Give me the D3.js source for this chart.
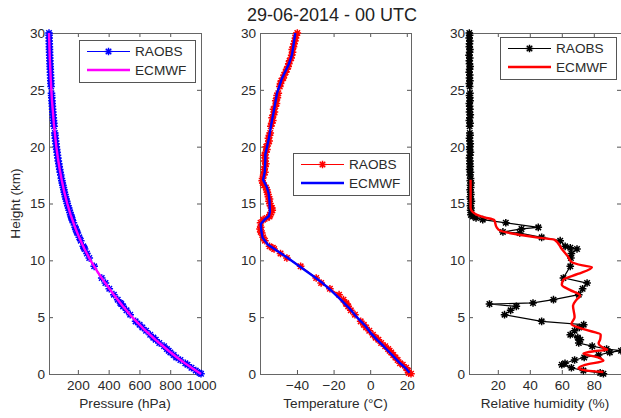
<!DOCTYPE html>
<html lang="en">
<head>
  <meta charset="UTF-8">
  <title>Radiosonde vs ECMWF profiles</title>
  <script src="https://d3js.org/d3.v7.min.js"></script>
  <style>
    html, body {
      margin: 0;
      padding: 0;
      background: #fff;
    }

    svg {
      display: block;
      font-family: "Liberation Sans", Arial, Helvetica, sans-serif;
    }

    .axis text {
      font-size: 13.6px;
      fill: #2a2a2a;
    }

    .label {
      font-size: 13.6px;
      fill: #2a2a2a;
    }
  </style>
</head>
<body>
  <svg id="chart" width="621" height="418"></svg>

  <script>
    // Radiosonde levels (km), shared by the three profiles
    const raobsHeight = [
      0.02, 0.10, 0.30, 0.55, 0.82, 0.95, 1.23, 1.45, 1.67, 1.90,
      2.05, 2.20, 2.45, 2.73, 3.02, 3.20, 3.46, 3.80, 4.10, 4.34,
      4.63, 5.22, 5.60, 5.95, 6.16, 6.25, 6.54, 6.98, 7.50, 8.00,
      8.45, 9.47, 10.20, 10.60, 11.00, 11.10, 11.23, 11.73, 12.02, 12.40,
      12.50, 12.76, 12.90, 13.30, 13.58, 13.72, 13.86, 14.00,
      14.2, 14.4, 14.6, 14.8, 15.0, 15.2, 15.4, 15.6, 15.8, 16.0, 16.2, 16.4, 16.6, 16.8, 17.0, 17.2,
      17.5, 17.75, 18.0, 18.25, 18.5, 18.75, 19.0, 19.25, 19.5, 19.75, 20.0, 20.25, 20.5, 20.75, 21.0, 21.2,
      21.8, 22.05, 22.3, 22.55, 22.8, 23.05, 23.3, 23.55, 23.8, 24.05, 24.3, 24.5, 24.7,
      25.3, 25.55, 25.8, 26.05, 26.3, 26.55, 26.8, 27.05, 27.3, 27.55, 27.8, 28.05, 28.3, 28.55, 28.8, 29.05, 29.3, 29.55, 29.8, 30.0
    ];

    const raobsPressure = [
      1000, 990, 966, 938, 912, 898, 866, 839, 822, 801,
      790, 778, 760, 729, 706, 690, 670, 643, 619, 601,
      575, 540, 516, 494, 482, 476, 459, 434, 404, 379,
      355, 306, 274, 259, 244, 240, 235, 219, 209, 197,
      194, 186, 182, 171, 163, 160, 157, 153,
      149, 144, 140, 135, 131, 127, 123, 119, 116, 112, 109, 106, 102, 99, 96, 93,
      89, 85.5, 82, 79, 76, 73, 70, 67.5, 65, 62.5, 60, 58, 55.5, 53.5, 51.5, 50,
      45.5, 43.7, 42, 40.3, 38.8, 37.2, 35.8, 34.4, 33, 31.7, 30.5, 29.5, 28.6,
      26, 25, 24.2, 23.3, 22.4, 21.5, 20.7, 19.8, 19, 18.3, 17.6, 16.9, 16.2, 15.6, 15, 14.4, 13.8, 13.3, 12.8, 12.4
    ];

    const raobsTemp = [
      22.3, 21.0, 20.6, 19.6, 17.8, 16.3, 15.0, 13.8, 12.6, 11.5,
      10.6, 9.8, 8.2, 6.0, 4.5, 3.0, 1.5, -0.5, -2.2, -3.5,
      -5.2, -8.3, -10.6, -12.0, -13.0, -13.2, -14.6, -17.0, -22.0, -26.8,
      -29.5, -38.0, -45.5, -49.0, -52.5, -53.2, -55.0, -57.5, -58.5, -59.2,
      -59.8, -60.2, -59.8, -59.9, -58.5, -56.5, -55.0, -54.8,
      -54.0, -53.5, -53.7, -54.5, -54.8, -55.3, -55.0, -55.6, -55.8, -56.2, -56.5, -57.0, -58.0, -58.7, -59.0, -58.8,
      -58.2, -57.5, -57.9, -57.4, -57.0, -57.6, -57.2, -57.8, -57.0, -56.4, -56.8, -55.8, -55.2, -55.6, -55.0, -54.6,
      -54.3, -53.8, -53.2, -53.6, -52.8, -52.3, -52.8, -51.8, -51.2, -51.6, -50.7, -50.9, -50.2,
      -49.4, -49.0, -48.5, -47.5, -47.0, -46.2, -45.6, -44.8, -44.5, -44.0, -43.2, -42.9, -42.4, -42.6, -41.9, -41.6, -41.2, -40.8, -40.5, -39.8
    ];

    const raobsRH = [
      86, 84, 73.5, 66, 60, 62, 68, 74, 83, 90,
      97, 88, 79, 70.6, 71.6, 70, 65.3, 68, 71, 73.7,
      47.4, 24.2, 28, 31.6, 14.8, 42, 54.8, 70.6, 73, 75.8,
      61, 65.3, 65.7, 66, 69.5, 65.3, 62.1, 59, 47.4, 33.7,
      23.2, 34.8, 45.3, 25, 10.6, 6.4, 4.5, 3.2,
      3.4, 3.0, 3.3, 2.9, 3.1, 3.5, 3.0, 2.8, 3.2, 3.0, 2.7, 3.1, 2.9, 3.3, 2.8, 3.0,
      2.6, 2.9, 2.4, 2.8, 2.5, 2.7, 2.3, 2.6, 2.9, 2.4, 2.6, 2.8, 2.5, 2.3, 2.7, 2.5,
      2.4, 2.7, 2.2, 2.5, 2.8, 2.3, 2.6, 2.4, 2.2, 2.7, 2.5, 2.3, 2.6,
      2.4, 2.2, 2.6, 2.3, 2.5, 2.1, 2.4, 2.7, 2.3, 2.2, 2.5, 2.0, 2.4, 2.6, 2.2, 2.3, 2.5, 2.1, 2.4, 2.2
    ];

    // ECMWF profiles
    const ecmwfPresHeight = [0, 0.5, 1, 1.5, 2, 3, 4, 5, 6, 7, 8, 9, 10, 11, 12, 13, 14, 15, 16, 17, 18, 19, 20, 22, 24, 26, 28, 30];
    const ecmwfPressure = [1000, 944, 890, 840, 793, 705, 625, 553, 490, 432, 378, 327, 282, 243, 209, 179, 153, 131, 112, 96, 82, 70, 60, 44, 32, 23.5, 17, 12.5];

    const ecmwfTempHeight = [0.1, 0.5, 1.0, 1.5, 2.0, 2.5, 3.0, 3.6, 4.2, 5.0, 5.8, 6.5, 7.3, 8.0, 8.6, 9.45, 10.2, 10.8, 11.4, 12.0,
      12.6, 13.2, 13.6, 13.9, 14.3, 15.2, 15.9, 16.4, 17.1, 17.8, 18.8, 19.3, 20.6, 22.0, 23.1, 24.7, 26.0, 27.2, 28.1, 30.0];
    const ecmwfTemp = [21.5, 19.5, 16.0, 13.0, 10.0, 7.0, 3.8, 0.3, -2.5, -7.3, -11.5, -15.8, -21.0, -26.0, -31.0, -38.5, -45.0, -50.5, -56.0, -58.8,
      -59.5, -59.8, -57.5, -55.3, -54.8, -55.0, -55.5, -56.4, -58.5, -57.6, -57.3, -57.3, -55.5, -54.0, -52.7, -50.9, -48.2, -44.6, -42.7, -40.9];

    const ecmwfRhHeight = [0.18, 0.3, 0.5, 0.8, 1.17, 1.45, 1.8, 2.0, 2.14, 2.3, 2.7, 3.05, 3.46, 3.9, 4.4, 5.0, 6.0, 6.5, 6.9, 7.4,
      7.86, 8.3, 8.8, 9.4, 9.55, 9.86, 10.3, 11.0, 11.8, 12.0, 12.23, 12.6, 12.9, 13.55, 13.8, 14.0, 14.3, 14.6, 17.1];
    const ecmwfRH = [86, 75.6, 70.4, 74.5, 86, 83, 73.5, 80, 88.4, 86, 83, 84, 84.3, 74.8, 66, 68, 67, 69, 71.4, 65,
      60, 61, 70, 78.8, 73, 66, 64, 60, 55.6, 45, 34.6, 21.6, 19.3, 17.7, 11, 7, 4, 3, 3];

    // Tick labels
    const heightTicks = [0, 5, 10, 15, 20, 25, 30];
    const pressureTicks = [200, 400, 600, 800, 1000];
    const tempTicks = [-40, -20, 0, 20];
    const rhTicks = [20, 40, 60, 80];
    const seriesNames = ["RAOBS", "ECMWF"];
    const title = "29-06-2014 - 00 UTC";

    const svg = d3.select("#chart");
    const plotTop = 33;
    const plotBottom = 374;

    const panels = [
      {
        left: 49, right: 201, raobs: raobsPressure,
        modelH: ecmwfPresHeight, model: ecmwfPressure, ticks: pressureTicks,
        label: "Pressure (hPa)", raobsColor: "#0000ff", modelColor: "#ff00ff",
        legendX: 79, legendY: 40, curve: d3.curveLinear
      },
      {
        left: 260, right: 411, raobs: raobsTemp,
        modelH: ecmwfTempHeight, model: ecmwfTemp, ticks: tempTicks,
        label: "Temperature (\u00B0C)", raobsColor: "#ff0000", modelColor: "#0000ff",
        legendX: 293, legendY: 153, curve: d3.curveLinear
      },
      {
        left: 469, right: 621, raobs: raobsRH,
        modelH: ecmwfRhHeight, model: ecmwfRH, ticks: rhTicks,
        label: "Relative humidity (%)", raobsColor: "#000000", modelColor: "#ff0000",
        legendX: 500, legendY: 37, curve: d3.curveMonotoneY
      }
    ];

    const y = d3.scaleLinear().domain([0, 30]).range([plotBottom, plotTop]);

    // MATLAB-like '*' marker: a plus and a cross
    function starPath(r) {
      const d = r * 0.72;
      return `M${-r},0H${r}M0,${-r}V${r}M${-d},${-d}L${d},${d}M${-d},${d}L${d},${-d}`;
    }

    function styleAxis(g) {
      g.select(".domain").remove();
      g.selectAll("line").attr("stroke", "#555");
    }

    function drawPanel(p) {
      const ext = d3.extent(p.raobs.concat(p.model));
      const x = d3.scaleLinear().domain(ext).range([p.left, p.right]);
      const g = svg.append("g");

      // axes (ticks inside, mirrored on top/right)
      g.append("g").attr("class", "axis")
        .attr("transform", `translate(0,${plotBottom})`)
        .call(d3.axisBottom(x).tickValues(p.ticks).tickFormat(d3.format("d"))
          .tickSizeInner(-4).tickSizeOuter(0).tickPadding(6))
        .call(styleAxis);
      g.append("g").attr("class", "axis")
        .attr("transform", `translate(0,${plotTop})`)
        .call(d3.axisTop(x).tickValues(p.ticks).tickSizeInner(-4).tickSizeOuter(0).tickFormat(() => ""))
        .call(styleAxis);
      g.append("g").attr("class", "axis")
        .attr("transform", `translate(${p.left},0)`)
        .call(d3.axisLeft(y).tickValues(heightTicks).tickSizeInner(-4).tickSizeOuter(0).tickPadding(4))
        .call(styleAxis);
      g.append("g").attr("class", "axis")
        .attr("transform", `translate(${p.right},0)`)
        .call(d3.axisRight(y).tickValues(heightTicks).tickSizeInner(-4).tickSizeOuter(0).tickFormat(() => ""))
        .call(styleAxis);

      g.append("rect")
        .attr("x", p.left).attr("y", plotTop)
        .attr("width", p.right - p.left).attr("height", plotBottom - plotTop)
        .attr("fill", "none").attr("stroke", "#666").attr("stroke-width", 1)
        .attr("shape-rendering", "crispEdges");

      // radiosonde: thin line with star markers
      const idx = d3.range(raobsHeight.length);
      g.append("path")
        .attr("d", d3.line().x(i => x(p.raobs[i])).y(i => y(raobsHeight[i]))(idx))
        .attr("fill", "none").attr("stroke", p.raobsColor).attr("stroke-width", 1.2);
      g.append("g").selectAll("path")
        .data(idx)
        .join("path")
        .attr("transform", i => `translate(${x(p.raobs[i])},${y(raobsHeight[i])})`)
        .attr("d", starPath(3.8))
        .attr("fill", "none").attr("stroke", p.raobsColor).attr("stroke-width", 1.5);

      // model profile
      const midx = d3.range(p.modelH.length);
      g.append("path")
        .attr("d", d3.line().curve(p.curve).x(i => x(p.model[i])).y(i => y(p.modelH[i]))(midx))
        .attr("fill", "none").attr("stroke", p.modelColor).attr("stroke-width", 2.4)
        .attr("stroke-linejoin", "round");

      // x label
      svg.append("text").attr("class", "label")
        .attr("x", (p.left + p.right) / 2).attr("y", 408)
        .attr("text-anchor", "middle")
        .text(p.label);

      // legend
      const lg = svg.append("g").attr("transform", `translate(${p.legendX},${p.legendY})`);
      lg.append("rect")
        .attr("x", 0.5).attr("y", 0.5).attr("width", 116).attr("height", 41.5)
        .attr("fill", "#fff").attr("stroke", "#555").attr("stroke-width", 1)
        .attr("shape-rendering", "crispEdges");
      seriesNames.forEach((name, k) => {
        const ry = 11.5 + k * 18.5;
        const col = k === 0 ? p.raobsColor : p.modelColor;
        lg.append("line")
          .attr("x1", 8).attr("x2", 51).attr("y1", ry).attr("y2", ry)
          .attr("stroke", col).attr("stroke-width", k === 0 ? 1.2 : 2.4);
        if (k === 0) {
          lg.append("path")
            .attr("transform", `translate(29.5,${ry})`)
            .attr("d", starPath(3.8))
            .attr("fill", "none").attr("stroke", col).attr("stroke-width", 1.5);
        }
        lg.append("text").attr("class", "label")
          .attr("x", 56).attr("y", ry).attr("dy", "0.36em")
          .text(name);
      });
    }

    panels.forEach(drawPanel);

    const midY = (plotTop + plotBottom) / 2;
    svg.append("text")
      .attr("x", 20).attr("y", midY)
      .attr("transform", `rotate(-90,20,${midY})`)
      .attr("text-anchor", "middle")
      .attr("class", "label")
      .text("Height (km)");

    svg.append("text")
      .attr("x", 332).attr("y", 21)
      .attr("text-anchor", "middle")
      .attr("font-size", "18px")
      .attr("fill", "#222")
      .text(title);
  </script>
</body>
</html>
